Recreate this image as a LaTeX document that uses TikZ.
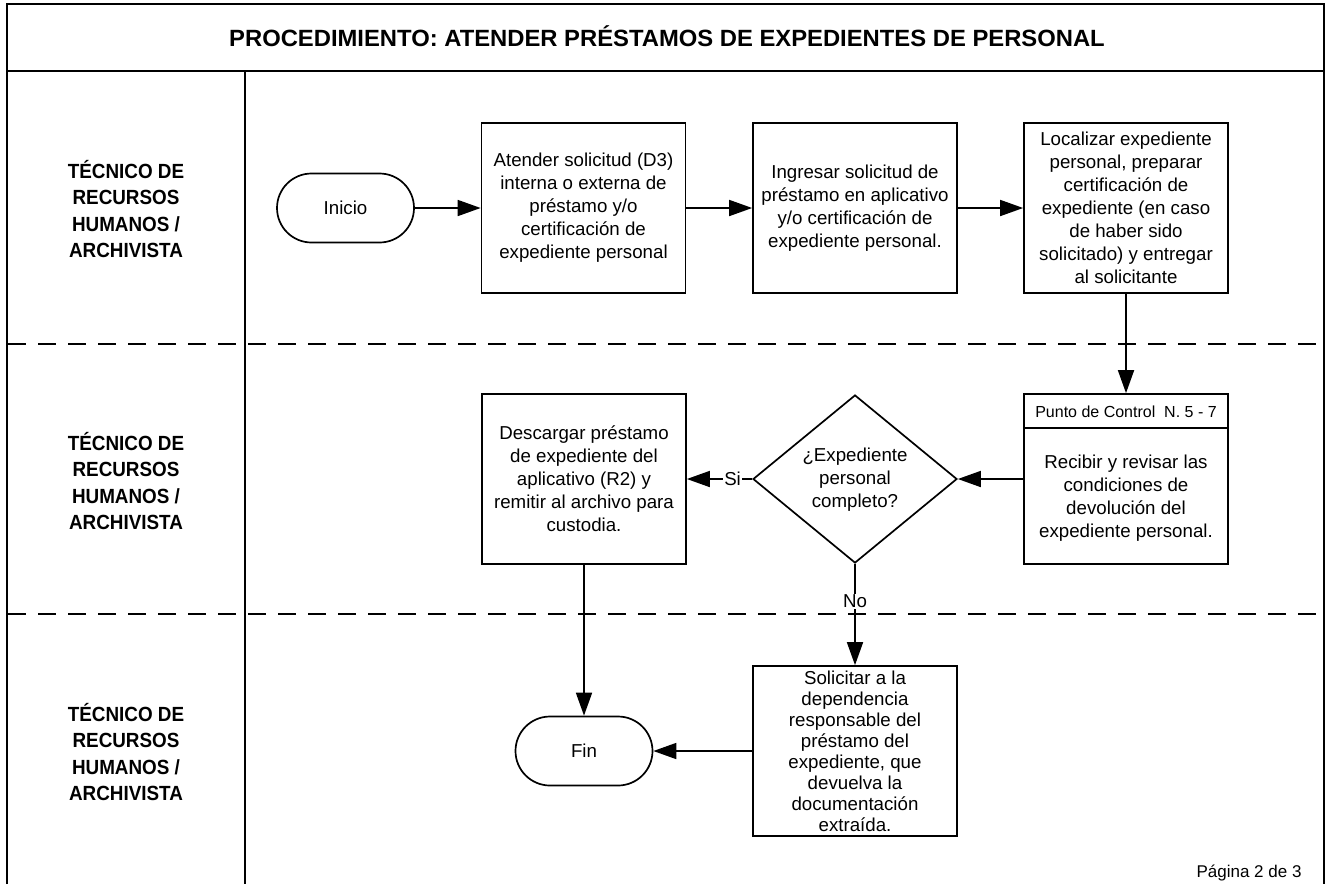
\documentclass[tikz,border=0pt]{standalone}
\usepackage{fontspec}
\setmainfont{Liberation Sans}
\newfontfamily\lanefont[FakeStretch=0.92]{Liberation Sans}
\usetikzlibrary{arrows.meta,shapes.geometric,shapes.misc}
\begin{document}
\begin{tikzpicture}[x=1pt,y=-1pt,
  txt/.style={font=\fontsize{18.7}{23}\selectfont,align=center},
  proc/.style={draw,line width=1.7pt,rectangle,minimum width=204pt,minimum height=170pt,inner sep=0pt},
  term/.style={draw,line width=1.7pt,rounded rectangle,minimum width=137pt,minimum height=69pt,inner sep=0pt},
  decis/.style={draw,line width=1.7pt,diamond,minimum width=204pt,minimum height=168pt,inner sep=0pt},
  arr/.style={line width=1.7pt,-{Triangle[length=23pt,width=16pt]}},
  lane/.style={font=\lanefont\bfseries\fontsize{20.5}{26.3}\selectfont,align=center},
  frame/.style={line width=1.7pt},
  sep/.style={line width=1.7pt,dash pattern=on 18pt off 12pt},
  lbl/.style={font=\fontsize{18.7}{23}\selectfont,fill=white,inner sep=1pt}
]
\useasboundingbox (0,0) rectangle (1329,884);
% frame
\coordinate (tl) at (7,4);
\coordinate (tr) at (1324,4);
\coordinate (bl) at (7,884);
\coordinate (br) at (1324,884);
\coordinate (hl) at (7,71);
\coordinate (hr) at (1324,71);
\coordinate (vt) at (245,71);
\coordinate (vb) at (245,884);
\coordinate (s1l) at (8,344);
\coordinate (s1r) at (1323,344);
\coordinate (s2l) at (8,614);
\coordinate (s2r) at (1323,614);
\draw[frame] (bl) -- (tl) -- (tr) -- (br);
\draw[frame] (hl) -- (hr);
\draw[frame] (vt) -- (vb);
\draw[sep] (s1l) -- (s1r);
\draw[sep] (s2l) -- (s2r);

\node[font=\bfseries\fontsize{23.5}{26}\selectfont,anchor=base] (title) at (667,46) {\scalebox{1.013}[1]{PROCEDIMIENTO: ATENDER PRÉSTAMOS DE EXPEDIENTES DE PERSONAL}};

\node[lane] (l1) at (126,209) {TÉCNICO DE\\RECURSOS\\HUMANOS /\\ARCHIVISTA};
\node[lane] (l2) at (126,481) {TÉCNICO DE\\RECURSOS\\HUMANOS /\\ARCHIVISTA};
\node[lane] (l3) at (126,752) {TÉCNICO DE\\RECURSOS\\HUMANOS /\\ARCHIVISTA};

% lane 1
\node[term,txt] (ini) at (345.5,208) {Inicio};
\node[proc,txt] (b1) at (583.5,208) {Atender solicitud (D3)\\interna o externa de\\préstamo y/o\\certificación de\\expediente personal};
\node[proc,txt] (b2) at (855,208) {Ingresar solicitud de\\préstamo en aplicativo\\y/o certificación de\\expediente personal.};
\node[proc,txt] (b3) at (1126,208) {Localizar expediente\\personal, preparar\\certificación de\\expediente (en caso\\de haber sido\\solicitado) y entregar\\al solicitante};

% lane 2
\node[proc] (ctrl) at (1126,479) {};
\coordinate (hd) at (0,428);
\draw[frame] (ctrl.west |- hd) -- (ctrl.east |- hd);
\node[font=\fontsize{16}{19}\selectfont] (ctrlh) at (1126,412) {Punto de Control\ \ N. 5 - 7};
\node[txt] (ctrlt) at (1126,498) {Recibir y revisar las\\condiciones de\\devolución del\\expediente personal.};
\node[decis] (d) at (855,479) {};
\node[txt] (dt) at (855,480) {¿Expediente\\personal\\completo?};
\node[proc,txt] (b4) at (584,479) {Descargar préstamo\\de expediente del\\aplicativo (R2) y\\remitir al archivo para\\custodia.};

% lane 3
\node[term,txt] (fin) at (584,751) {Fin};
\node[proc,txt,font=\fontsize{18.7}{21}\selectfont] (b5) at (855,751) {Solicitar a la\\dependencia\\responsable del\\préstamo del\\expediente, que\\devuelva la\\documentación\\extraída.};

\node[font=\fontsize{17}{20}\selectfont,anchor=east] (pg) at (1305,873) {Página 2 de 3};

% connectors
\draw[arr] (ini) -- (b1);
\draw[arr] (b1) -- (b2);
\draw[arr] (b2) -- (b3);
\draw[arr] (b3) -- (ctrl);
\draw[arr] (ctrl) -- (d);
\draw[arr] (d) -- node[lbl,pos=0.3] {Si} (b4);
\draw[arr] (d) -- node[lbl,pos=0.37] {No} (b5);
\draw[arr] (b4) -- (fin);
\draw[arr] (b5) -- (fin);
\end{tikzpicture}
\end{document}
